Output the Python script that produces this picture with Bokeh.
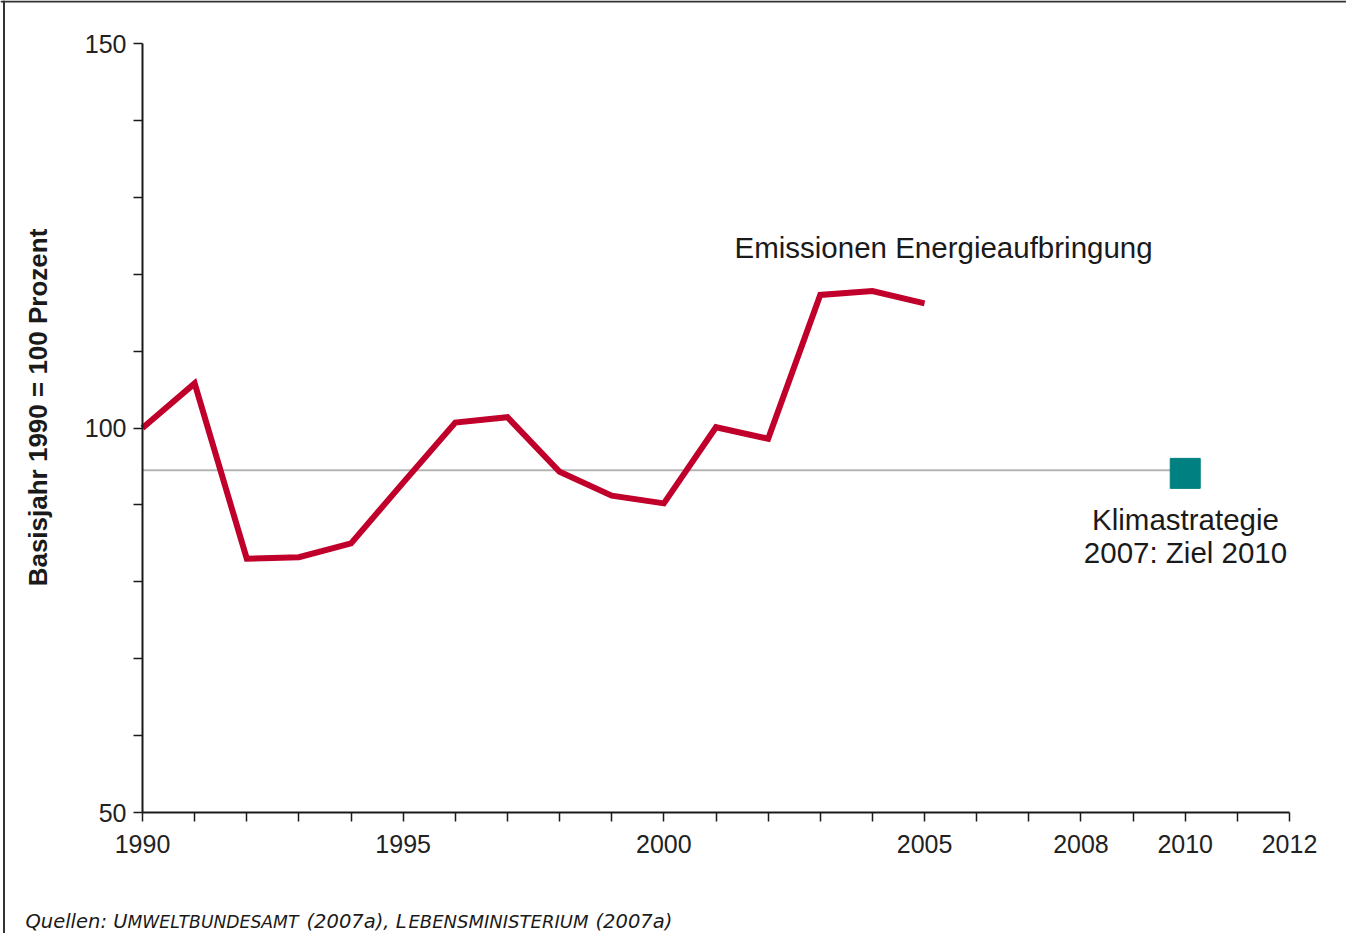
import math
from bokeh.plotting import figure
from bokeh.models import Range1d, LinearAxis, FixedTicker, Span, Label
from bokeh.embed import file_html
from bokeh.resources import INLINE

# ---------------- data ----------------
years = [1990, 1991, 1992, 1993, 1994, 1995, 1996, 1997, 1998, 1999,
         2000, 2001, 2002, 2003, 2004, 2005]
emissions = [100.0, 105.8, 83.0, 83.2, 85.0, 92.9, 100.7, 101.4, 94.3, 91.2,
             90.2, 100.1, 98.6, 117.3, 117.8, 116.2]
target_years = [1990, 2010]
target_value = 94.5
goal_year = [2010]
goal_value = [94.1]

x_ticks = list(range(1990, 2013))
x_labels_shown = [1990, 1995, 2000, 2005, 2008, 2010, 2012]
y_ticks = list(range(50, 151, 10))
y_labels_shown = [50, 100, 150]

series_label = "Emissionen Energieaufbringung"
goal_label = ["Klimastrategie", "2007: Ziel 2010"]
y_title = "Basisjahr 1990 = 100 Prozent"

# ---------------- geometry helpers (screen px -> data) ----------------
W, H = 1346, 933
OX, OY = 8, 8                      # page margin
X0_PX, X1_PX = 150, 1297           # 1990 .. 2012
Y150_PX, Y50_PX = 51, 820          # 150 .. 50
PX_PER_YEAR = (X1_PX - X0_PX) / 22.0
PX_PER_UNIT = (Y50_PX - Y150_PX) / 100.0


def xd(px):
    return 1990 + (px - X0_PX) / PX_PER_YEAR


def yd(py):
    return 150 - (py - Y150_PX) / PX_PER_UNIT


p = figure(width=W, height=H, output_backend="svg", toolbar_location=None,
           x_range=Range1d(xd(OX), xd(OX + W)), y_range=Range1d(yd(OY + H), yd(OY)),
           x_axis_type=None, y_axis_type=None, min_border=0)
p.outline_line_color = None
p.background_fill_color = "white"
p.border_fill_color = "white"
p.xgrid.visible = False
p.ygrid.visible = False

FONT = "Liberation Sans"
AX_COL = "#1a1a1a"

# x axis
xaxis = LinearAxis(fixed_location=50, bounds=(1990, 2012))
xaxis.ticker = FixedTicker(ticks=x_ticks)
xaxis.major_label_overrides = {t: (str(t) if t in x_labels_shown else "") for t in x_ticks}
xaxis.axis_line_color = AX_COL
xaxis.axis_line_width = 2
xaxis.major_tick_line_color = AX_COL
xaxis.major_tick_line_width = 1.5
xaxis.major_tick_out = 9
xaxis.major_tick_in = 0
xaxis.minor_tick_line_color = None
xaxis.major_label_text_font = FONT
xaxis.major_label_text_font_size = "25px"
xaxis.major_label_text_color = "#222222"
xaxis.major_label_standoff = 13
p.add_layout(xaxis, "below")

# y axis
yaxis = LinearAxis(fixed_location=1990, bounds=(50, 150))
yaxis.ticker = FixedTicker(ticks=y_ticks)
yaxis.major_label_overrides = {t: (str(t) if t in y_labels_shown else "") for t in y_ticks}
yaxis.axis_line_color = AX_COL
yaxis.axis_line_width = 2
yaxis.major_tick_line_color = AX_COL
yaxis.major_tick_line_width = 1.5
yaxis.major_tick_out = 9
yaxis.major_tick_in = 0
yaxis.minor_tick_line_color = None
yaxis.major_label_text_font = FONT
yaxis.major_label_text_font_size = "25px"
yaxis.major_label_text_color = "#222222"
yaxis.major_label_standoff = 7
p.add_layout(yaxis, "left")

# outer frame (top and left edge visible)
p.add_layout(Span(location=xd(11.5), dimension="height", line_color="#333333", line_width=2))
p.add_layout(Span(location=yd(9), dimension="width", line_color="#333333", line_width=2))

# target reference line
p.line(target_years, [target_value] * len(target_years), line_color="#b4b4b4", line_width=2)

# emissions series
p.line(years, emissions, line_color="#c0002a", line_width=6, line_join="miter")

# goal marker
p.scatter(goal_year, goal_value, marker="square", size=30,
          fill_color="#008080", line_color="#008080")

# labels
p.add_layout(Label(x=xd(742), y=yd(255), text=series_label, text_font=FONT,
                   text_font_size="29.5px", text_color="#1a1a1a",
                   text_baseline="middle", text_align="left"))
p.add_layout(Label(x=xd(1193), y=yd(527), text=goal_label[0], text_font=FONT,
                   text_font_size="29.5px", text_color="#1a1a1a",
                   text_baseline="middle", text_align="center"))
p.add_layout(Label(x=xd(1193), y=yd(560), text=goal_label[1], text_font=FONT,
                   text_font_size="29.5px", text_color="#1a1a1a",
                   text_baseline="middle", text_align="center"))
p.add_layout(Label(x=xd(45), y=yd(415), text=y_title, angle=math.pi / 2,
                   text_font=FONT, text_font_size="26px", text_font_style="bold",
                   text_color="#1a1a1a", text_baseline="middle", text_align="center"))

# source note (small caps emulated with smaller capitals)
SRC_FONT = "DejaVu Sans"
src_parts = [("Quellen: U", 33, "19.5px"), ("MWELTBUNDESAMT", 135, "17.2px"),
             ("(2007a), L", 314, "19.5px"), ("EBENSMINISTERIUM", 416, "18px"),
             ("(2007a)", 603, "19.5px")]
for txt, px, fs in src_parts:
    p.add_layout(Label(x=xd(px), y=yd(929), text=txt, text_font=SRC_FONT,
                       text_font_size=fs, text_font_style="italic",
                       text_color="#1a1a1a", text_baseline="alphabetic",
                       text_align="left"))

open("out.html", "w").write(file_html(p, INLINE))
